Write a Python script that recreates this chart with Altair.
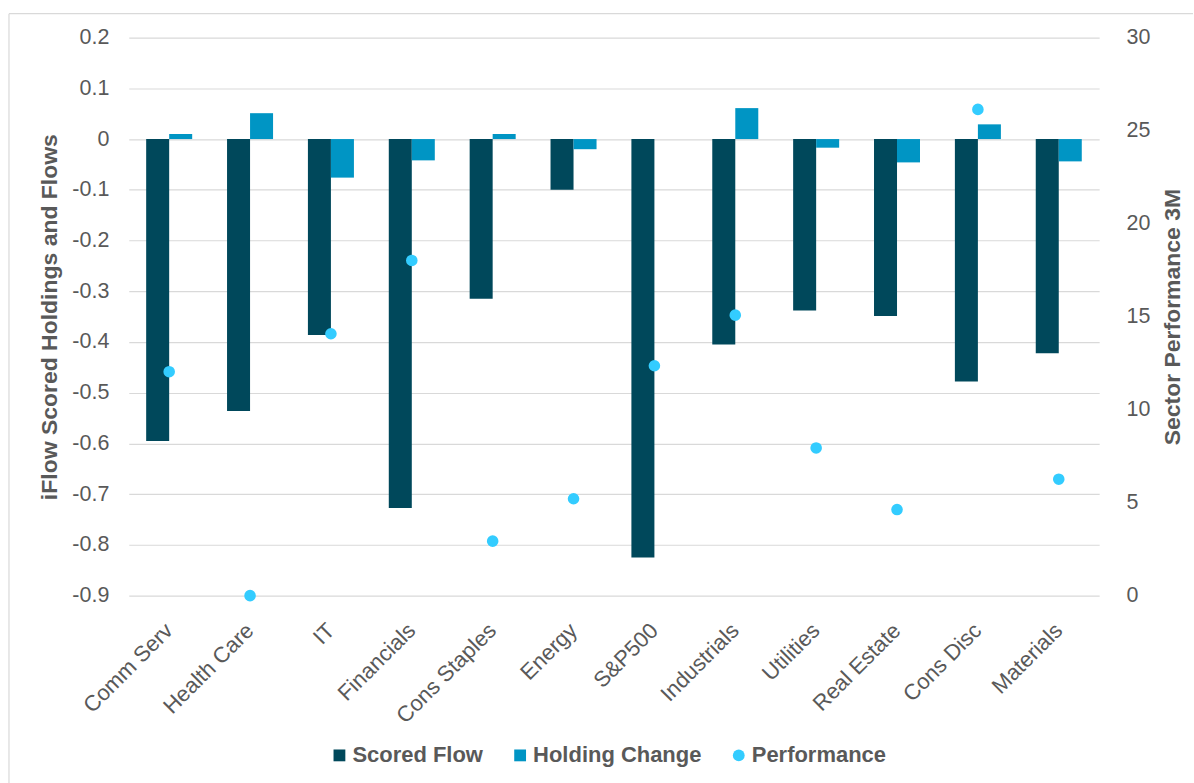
import altair as alt
import pandas as pd

categories = ["Comm Serv", "Health Care", "IT", "Financials", "Cons Staples", "Energy",
              "S&P500", "Industrials", "Utilities", "Real Estate", "Cons Disc", "Materials"]
scored_flow = [-0.595, -0.536, -0.386, -0.727, -0.315, -0.100,
               -0.825, -0.405, -0.338, -0.349, -0.478, -0.422]
holding_change = [0.010, 0.051, -0.076, -0.042, 0.010, -0.020,
                  0.0, 0.061, -0.017, -0.046, 0.029, -0.044]
performance = [12.04, 0.0, 14.08, 18.02, 2.93, 5.21,
               12.36, 15.08, 7.94, 4.63, 26.14, 6.26]

series_names = ["Scored Flow", "Holding Change", "Performance"]
series_colors = ["#00485B", "#0095C4", "#33CCFF"]
series_shapes = ["square", "square", "circle"]

left_ticks = [0.2, 0.1, 0.0, -0.1, -0.2, -0.3, -0.4, -0.5, -0.6, -0.7, -0.8, -0.9]
right_ticks = [0, 5, 10, 15, 20, 25, 30]

FONT = "Liberation Sans"
GRAY = "#595959"

bars_df = pd.DataFrame(
    [{"category": c, "series": "Scored Flow", "value": v} for c, v in zip(categories, scored_flow)]
    + [{"category": c, "series": "Holding Change", "value": v} for c, v in zip(categories, holding_change)]
)
perf_df = pd.DataFrame({"category": categories, "series": "Performance", "value": performance})

x_scale = alt.Scale(domain=categories, paddingInner=0.431, paddingOuter=0.215)
x_axis = alt.Axis(
    title=None, labelAngle=-45, labelAlign="right", labelBaseline="middle",
    labelPadding=31, labelFontSize=22, labelColor=GRAY, labelFont=FONT,
    domain=False, ticks=False, tickSize=0, grid=False, labelLimit=0,
)

legend = alt.Legend(
    title=None, orient="none", legendX=200, legendY=708, direction="horizontal",
    labelFont=FONT, labelFontSize=22, labelFontWeight="bold", labelColor=GRAY,
    symbolSize=140, symbolStrokeWidth=0, symbolOpacity=1, columnPadding=26, labelOffset=2,
    labelLimit=0,
)
color_scale = alt.Scale(domain=series_names, range=series_colors)
shape_scale = alt.Scale(domain=series_names, range=series_shapes)

bars = alt.Chart(bars_df).mark_bar().encode(
    x=alt.X("category:N", sort=categories, scale=x_scale, axis=x_axis),
    xOffset=alt.XOffset("series:N", sort=series_names[:2],
                        scale=alt.Scale(domain=series_names[:2], paddingInner=0, paddingOuter=0)),
    y=alt.Y("value:Q", scale=alt.Scale(domain=[-0.9, 0.2], nice=False, zero=False),
            axis=alt.Axis(
                orient="left", values=left_ticks, title="iFlow Scored Holdings and Flows",
                labelExpr="datum.value == 0 ? '0' : (datum.value < 0 ? '-' : '') + format(abs(datum.value), '.1f')",
                labelFont=FONT, labelFontSize=21.5, labelColor=GRAY, labelPadding=20,
                titleFont=FONT, titleFontSize=23, titleFontWeight="bold", titleColor=GRAY,
                titlePadding=10, domain=False, ticks=False, tickSize=0,
                grid=True, gridColor="#D9D9D9", gridWidth=1.2,
            )),
    color=alt.Color("series:N", scale=color_scale, legend=legend),
)

points = alt.Chart(perf_df).mark_point(filled=True, size=135, opacity=1).encode(
    x=alt.X("category:N", sort=categories, scale=x_scale, axis=x_axis),
    y=alt.Y("value:Q", scale=alt.Scale(domain=[0, 30], nice=False),
            axis=alt.Axis(
                orient="right", values=right_ticks, title="Sector Performance 3M",
                labelFont=FONT, labelFontSize=21.5, labelColor=GRAY, labelPadding=27,
                titleFont=FONT, titleFontSize=23, titleFontWeight="bold", titleColor=GRAY,
                titleAngle=270, titleBaseline="top", titlePadding=12,
                domain=False, ticks=False, tickSize=0, grid=False,
            )),
    color=alt.Color("series:N", scale=color_scale, legend=legend),
    shape=alt.Shape("series:N", scale=shape_scale, legend=legend),
)

frame_df = pd.DataFrame({"k": [0]})
frame_top = alt.Chart(frame_df).mark_rule(color="#D9D9D9", strokeWidth=1.2).encode(
    x=alt.value(-120), x2=alt.value(1066), y=alt.value(-24)
)
frame_left = alt.Chart(frame_df).mark_rule(color="#D9D9D9", strokeWidth=1.2).encode(
    x=alt.value(-120), y=alt.value(-24), y2=alt.value(747)
)

chart = alt.layer(frame_top, frame_left, bars, points).resolve_scale(
    y="independent"
).properties(
    width=972, height=559,
    padding={"left": 8, "top": 12, "right": 0, "bottom": 0},
    background="white",
).configure_view(stroke=None)

chart.save("out.html", embed_options={"renderer": "svg", "actions": False})
